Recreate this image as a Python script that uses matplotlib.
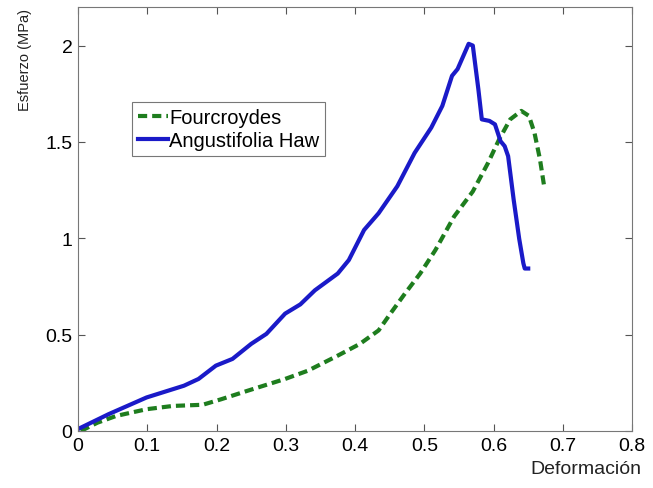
import numpy as np
import matplotlib
matplotlib.use('Agg')
import matplotlib.pyplot as plt

# Curvas esfuerzo-deformacion
ang_x = [0.0, 0.044, 0.099, 0.153, 0.174, 0.199, 0.223, 0.25, 0.272, 0.299,
         0.321, 0.342, 0.375, 0.391, 0.413, 0.434, 0.461, 0.486, 0.510, 0.526,
         0.540, 0.548, 0.564, 0.570, 0.578, 0.583, 0.594, 0.602, 0.610, 0.616,
         0.621, 0.629, 0.637, 0.643, 0.645, 0.650]
ang_y = [0.01, 0.087, 0.174, 0.235, 0.27, 0.339, 0.374, 0.452, 0.504, 0.609,
         0.657, 0.73, 0.817, 0.887, 1.043, 1.13, 1.27, 1.443, 1.574, 1.687,
         1.843, 1.878, 2.009, 2.0, 1.774, 1.617, 1.609, 1.591, 1.504, 1.478,
         1.426, 1.2, 0.997, 0.87, 0.843, 0.843]

four_x = [0.004, 0.028, 0.055, 0.099, 0.137, 0.180, 0.207, 0.245, 0.299, 0.332,
          0.375, 0.407, 0.434, 0.451, 0.472, 0.494, 0.516, 0.543, 0.570, 0.592,
          0.608, 0.624, 0.640, 0.651, 0.659, 0.667, 0.673]
four_y = [0.0, 0.043, 0.078, 0.113, 0.130, 0.136, 0.165, 0.209, 0.270, 0.313,
          0.391, 0.452, 0.522, 0.609, 0.713, 0.817, 0.939, 1.113, 1.243, 1.391,
          1.513, 1.617, 1.661, 1.635, 1.548, 1.409, 1.270]

xticks = [0, 0.1, 0.2, 0.3, 0.4, 0.5, 0.6, 0.7, 0.8]
xtick_labels = ['0', '0.1', '0.2', '0.3', '0.4', '0.5', '0.6', '0.7', '0.8']
yticks = [0, 0.5, 1, 1.5, 2]
ytick_labels = ['0', '0.5', '1', '1.5', '2']

plt.rcParams['font.family'] = ['Liberation Sans', 'DejaVu Sans']

fig = plt.figure(figsize=(6.53, 4.89), dpi=100)
ax = fig.add_axes([0.1195, 0.1166, 0.8485, 0.867])

ax.plot(four_x, four_y, color='#1e7d1e', lw=3, ls=(0, (2.2, 1.2)), label='Fourcroydes')
ax.plot(ang_x, ang_y, color='#1a1ac8', lw=3, solid_joinstyle='round', label='Angustifolia Haw')

ax.set_xlim(0, 0.8)
ax.set_ylim(0, 2.2)
ax.set_xticks(xticks)
ax.set_xticklabels(xtick_labels)
ax.set_yticks(yticks)
ax.set_yticklabels(ytick_labels)
ax.tick_params(direction='in', top=True, right=True, labelsize=14,
               color='#555555', length=5, pad=4)
for s in ax.spines.values():
    s.set_color('#777777')

fig.text(0.982, 0.04, 'Deformación', ha='right', va='center', fontsize=14, color='#222222')
fig.text(0.038, 0.878, 'Esfuerzo (MPa)', rotation=90, ha='center', va='center',
         fontsize=10.5, color='#222222')

leg = ax.legend(loc='upper left', bbox_to_anchor=(0.097, 0.776), fontsize=14.5,
                frameon=True, fancybox=False, handlelength=1.5, handletextpad=0.05,
                borderpad=0.3, labelspacing=0.2, borderaxespad=0)
leg.get_frame().set_edgecolor('#555555')
leg.get_frame().set_linewidth(0.8)

fig.savefig('out.png', dpi=100)
